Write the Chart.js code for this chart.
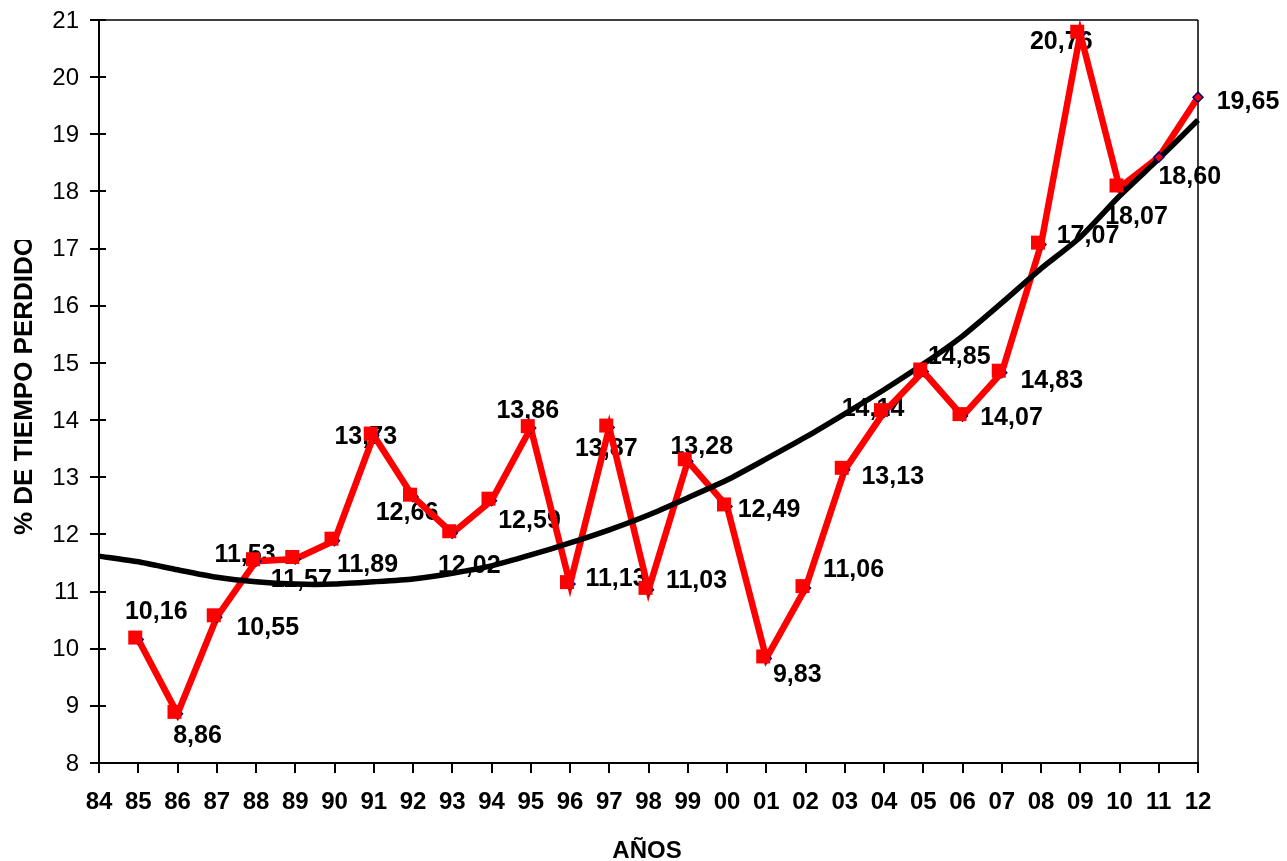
<!DOCTYPE html>
<html>
<head>
<meta charset="utf-8">
<script src="https://cdn.jsdelivr.net/npm/chart.js@4/dist/chart.umd.min.js"></script>
<style>
  html, body { margin: 0; padding: 0; background: #fff; }
  #wrap { width: 1287px; height: 861px; }
</style>
</head>
<body>
<div id="wrap"><canvas id="grafico" width="1287" height="861"></canvas></div>
<script>
// Años (eje X)
const years = ['84','85','86','87','88','89','90','91','92','93','94','95','96','97','98','99',
               '00','01','02','03','04','05','06','07','08','09','10','11','12'];

// % de tiempo perdido por año (sin dato en 84)
const tiempoPerdido = [null, 10.16, 8.86, 10.55, 11.53, 11.57, 11.89, 13.73, 12.66, 12.02, 12.59,
                       13.86, 11.13, 13.87, 11.03, 13.28, 12.49, 9.83, 11.06, 13.13, 14.14,
                       14.85, 14.07, 14.83, 17.07, 20.76, 18.07, 18.60, 19.65];

// Línea de tendencia
const tendencia = [11.62, 11.52, 11.38, 11.25, 11.17, 11.13, 11.13, 11.17, 11.22, 11.32, 11.45,
                   11.64, 11.85, 12.08, 12.34, 12.64, 12.95, 13.32, 13.70, 14.11, 14.53,
                   14.98, 15.47, 16.05, 16.65, 17.20, 17.92, 18.57, 19.25];

// Escala del eje Y
const yMin = 8, yMax = 21, yStep = 1;

// Desplazamiento de cada etiqueta respecto a su punto [dx, dy]
const labelOffsets = [null, [18,-30], [20,20], [51,9], [-11,-8], [6,19], [33,22], [-8,-1], [-6,14],
                      [17,31], [38,18], [-3,-19], [46,-7], [-3,19], [48,-11], [14,-16], [42,2],
                      [31,15], [48,-20], [48,5], [-11,-5], [36,-16], [49,0], [50,6], [47,-11],
                      [-19,6], [17,28], [31,18], [50,3]];

const FONT = '"Liberation Sans", Arial, sans-serif';

// Marcador cuadrado rojo, ligeramente desplazado arriba-izquierda del punto
function squareMarker() {
  const c = document.createElement('canvas');
  c.width = 28; c.height = 28;
  const g = c.getContext('2d');
  g.fillStyle = '#FF0000';
  g.fillRect(14 - 3 - 7, 14 - 2 - 7, 14, 14);
  return c;
}
const squareImg = squareMarker();

const fmt = v => v.toFixed(2).replace('.', ',');

// Etiquetas de valor (debajo de las líneas)
const valueLabels = {
  id: 'valueLabels',
  beforeDatasetsDraw(chart) {
    const {ctx, scales: {x, y}} = chart;
    ctx.save();
    ctx.font = 'bold 25px ' + FONT;
    ctx.fillStyle = '#000';
    ctx.textAlign = 'center';
    ctx.textBaseline = 'alphabetic';
    tiempoPerdido.forEach((v, i) => {
      if (v === null) return;
      const off = labelOffsets[i];
      const px = x.getPixelForValue(i);
      const py = y.getPixelForValue(v);
      ctx.fillText(fmt(v), px + off[0], py + off[1] + 9);
    });
    ctx.restore();
  }
};

// Marco, ejes, marcas, rótulos del eje Y y títulos
const frame = {
  id: 'frame',
  beforeDatasetsDraw(chart) {
    const {ctx, chartArea: a, scales: {x, y}} = chart;
    ctx.save();
    ctx.strokeStyle = '#000';
    ctx.lineWidth = 1.5;
    ctx.beginPath();
    ctx.moveTo(a.left, a.top); ctx.lineTo(a.right, a.top);
    ctx.moveTo(a.right, a.top); ctx.lineTo(a.right, a.bottom);
    ctx.stroke();

    ctx.lineWidth = 2;
    ctx.beginPath();
    ctx.moveTo(a.left, a.top - 1); ctx.lineTo(a.left, a.bottom + 1);
    ctx.moveTo(a.left - 1, a.bottom); ctx.lineTo(a.right + 1, a.bottom);
    // marcas del eje Y (cruzan el eje)
    y.ticks.forEach((t, i) => {
      const py = Math.round(y.getPixelForTick(i));
      ctx.moveTo(a.left - 9, py); ctx.lineTo(a.left + 7, py);
    });
    // marcas del eje X (hacia abajo)
    x.ticks.forEach((t, i) => {
      const px = Math.round(x.getPixelForTick(i));
      ctx.moveTo(px, a.bottom); ctx.lineTo(px, a.bottom + 10);
    });
    ctx.stroke();

    // rótulos del eje Y
    ctx.fillStyle = '#000';
    ctx.font = '24px ' + FONT;
    ctx.textAlign = 'right';
    ctx.textBaseline = 'middle';
    y.ticks.forEach((t, i) => {
      ctx.fillText(String(t.value), a.left - 20, y.getPixelForTick(i) + 1);
    });
    ctx.restore();
  },
  afterDraw(chart) {
    const {ctx} = chart;
    ctx.save();
    ctx.fillStyle = '#000';
    // Título del eje X
    ctx.font = 'bold 24px ' + FONT;
    ctx.textAlign = 'center';
    ctx.textBaseline = 'alphabetic';
    ctx.fillText('AÑOS', 647, 858);
    // Título del eje Y (recortado por arriba)
    ctx.beginPath();
    ctx.rect(0, 240, 60, 621);
    ctx.clip();
    ctx.translate(32, 535);
    ctx.rotate(-Math.PI / 2);
    ctx.font = 'bold 26px ' + FONT;
    ctx.textAlign = 'left';
    ctx.fillText('% DE TIEMPO PERDIDO', 0, 0);
    ctx.restore();
  }
};

new Chart(document.getElementById('grafico'), {
  type: 'line',
  data: {
    labels: years,
    datasets: [
      { // cuadrados rojos
        data: tiempoPerdido,
        showLine: false,
        pointStyle: squareImg,
        pointRadius: ctx => (ctx.dataIndex >= 27 ? 0 : 7),
        order: 0,
        clip: false
      },
      { // rombos azules
        data: tiempoPerdido,
        showLine: false,
        pointStyle: 'rectRot',
        pointRadius: 5,
        pointBackgroundColor: '#FF0000',
        pointBorderColor: '#000080',
        pointBorderWidth: 1.5,
        order: 1,
        clip: false
      },
      { // tendencia
        data: tendencia,
        borderColor: '#000',
        borderWidth: 5.5,
        pointRadius: 0,
        tension: 0.2,
        order: 2,
        clip: false
      },
      { // serie principal
        data: tiempoPerdido,
        borderColor: '#FF0000',
        borderWidth: 6.5,
        pointRadius: 0,
        tension: 0,
        order: 3,
        clip: false
      }
    ]
  },
  options: {
    responsive: false,
    animation: false,
    events: [],
    layout: { padding: { left: 0, top: 20, right: 89, bottom: 0 } },
    plugins: { legend: { display: false }, tooltip: { enabled: false } },
    scales: {
      x: {
        type: 'category',
        offset: false,
        grid: { display: false },
        border: { display: false },
        ticks: {
          color: '#000',
          font: { family: FONT, size: 24, weight: 'bold' },
          padding: 17,
          maxRotation: 0,
          autoSkip: false
        },
        afterFit(s) { s.height = 98; }
      },
      y: {
        min: yMin,
        max: yMax,
        grid: { display: false },
        border: { display: false },
        ticks: { stepSize: yStep, display: false },
        afterFit(s) { s.width = 99; }
      }
    }
  },
  plugins: [valueLabels, frame]
});
</script>
</body>
</html>
